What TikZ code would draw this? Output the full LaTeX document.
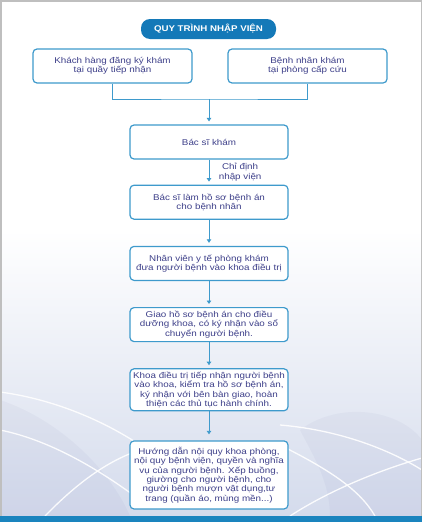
\documentclass[tikz,border=0pt]{standalone}
\usepackage{fontspec}
\setmainfont{Liberation Sans}[FakeStretch=1.17]
\usetikzlibrary{arrows.meta,positioning}
\definecolor{hsblue}{RGB}{20,121,184}
\definecolor{hsline}{RGB}{62,154,204}
\definecolor{hstext}{RGB}{62,64,138}
\definecolor{hsbg}{RGB}{212,219,236}
\definecolor{hsband}{RGB}{26,132,190}

\begin{document}
\begin{tikzpicture}[x=1pt,y=-1pt,
  font=\fontsize{8.4}{9.4}\selectfont, node distance=26pt,
  k/.style={draw=hsline,line width=1.2pt,rounded corners=4pt,fill=white,
            text=hstext,align=center,minimum width=158pt,minimum height=34pt,inner sep=3pt},
  tt/.style={fill=hsblue,rounded corners=9pt,text=white,minimum width=135pt,
            minimum height=20pt,font=\fontsize{8.3}{9}\selectfont\bfseries},
  a/.style={draw=hsline,line width=1pt,-{Triangle[length=3.5pt,width=4.5pt]},shorten >=3pt},
  ln/.style={draw=hsline,line width=1pt},
  sw/.style={white,line width=1.3pt,opacity=.9}]
\useasboundingbox (0,0) rectangle (422,522);
% background
\fill[white] (0,0) rectangle (422,522);
\shade[top color=white,bottom color=hsbg] (0,230) rectangle (422,516);
\fill[hstext,opacity=.04] (0,400) .. controls (60,420) and (110,470) .. (130,516) -- (0,516) -- cycle;
\fill[hstext,opacity=.04] (300,430) .. controls (340,400) and (400,410) .. (422,440) -- (422,516) -- (330,516) .. controls (330,480) and (310,450) .. cycle;
\draw[sw] (0,392) .. controls (60,400) and (110,425) .. (140,445);
\draw[sw] (0,430) .. controls (50,440) and (100,470) .. (140,500);
\draw[sw] (45,516) .. controls (80,480) and (110,460) .. (140,450);
\draw[sw] (280,425) .. controls (340,430) and (390,450) .. (422,470);
\draw[sw] (290,516) .. controls (330,490) and (380,470) .. (422,458);
\draw[sw] (280,445) .. controls (330,470) and (360,490) .. (375,516);
\draw[gray!50,line width=1.5pt] (0.75,0.75) rectangle (421.25,521.25);
\fill[hsband] (0,516) rectangle (422,522);

% title and entry boxes
\node[tt] (tit) at (208.5,29) {QUY TRÌNH NHẬP VIỆN};
\node[k,minimum width=159pt] (kh) at (112.5,66) {Khách hàng đăng ký khám\\tại quầy tiếp nhận};
\node[k,minimum width=159pt] (cc) at (307.5,66) {Bệnh nhân khám\\tại phòng cấp cứu};
\coordinate (j) at (209,99);

% main chain
\node[k] (bs) at (209,142) {Bác sĩ khám};
\node[k,below=25pt of bs] (hs) {Bác sĩ làm hồ sơ bệnh án\\cho bệnh nhân};
\node[k,below=of hs] (nv) {Nhân viên y tế phòng khám\\đưa người bệnh vào khoa điều trị};
\node[k,below=of nv] (gh) {Giao hồ sơ bệnh án cho điều\\dưỡng khoa, có ký nhận vào sổ\\chuyển người bệnh.};
\node[k,below=of gh] (kd) {Khoa điều trị tiếp nhận người bệnh\\vào khoa, kiểm tra hồ sơ bệnh án,\\ký nhận với bên bàn giao, hoàn\\thiện các thủ tục hành chính.};
\node[k,below=29pt of kd,inner ysep=6pt] (hd) {Hướng dẫn nội quy khoa phòng,\\nội quy bệnh viện, quyền và nghĩa\\vụ của người bệnh. Xếp buồng,\\giường cho người bệnh, cho\\người bệnh mượn vật dụng,tư\\trang (quần áo, mùng mền...)};

% connectors
\draw[ln] (kh.south) |- (j) -| (cc.south);
\draw[a] (j) -- (bs);
\draw[a] (bs) -- node[right=6pt,text=hstext,align=center]{Chỉ định\\nhập viện} (hs);
\draw[a] (hs) -- (nv);
\draw[a] (nv) -- (gh);
\draw[a] (gh) -- (kd);
\draw[a,shorten >=6pt] (kd) -- (hd);
\end{tikzpicture}
\end{document}
